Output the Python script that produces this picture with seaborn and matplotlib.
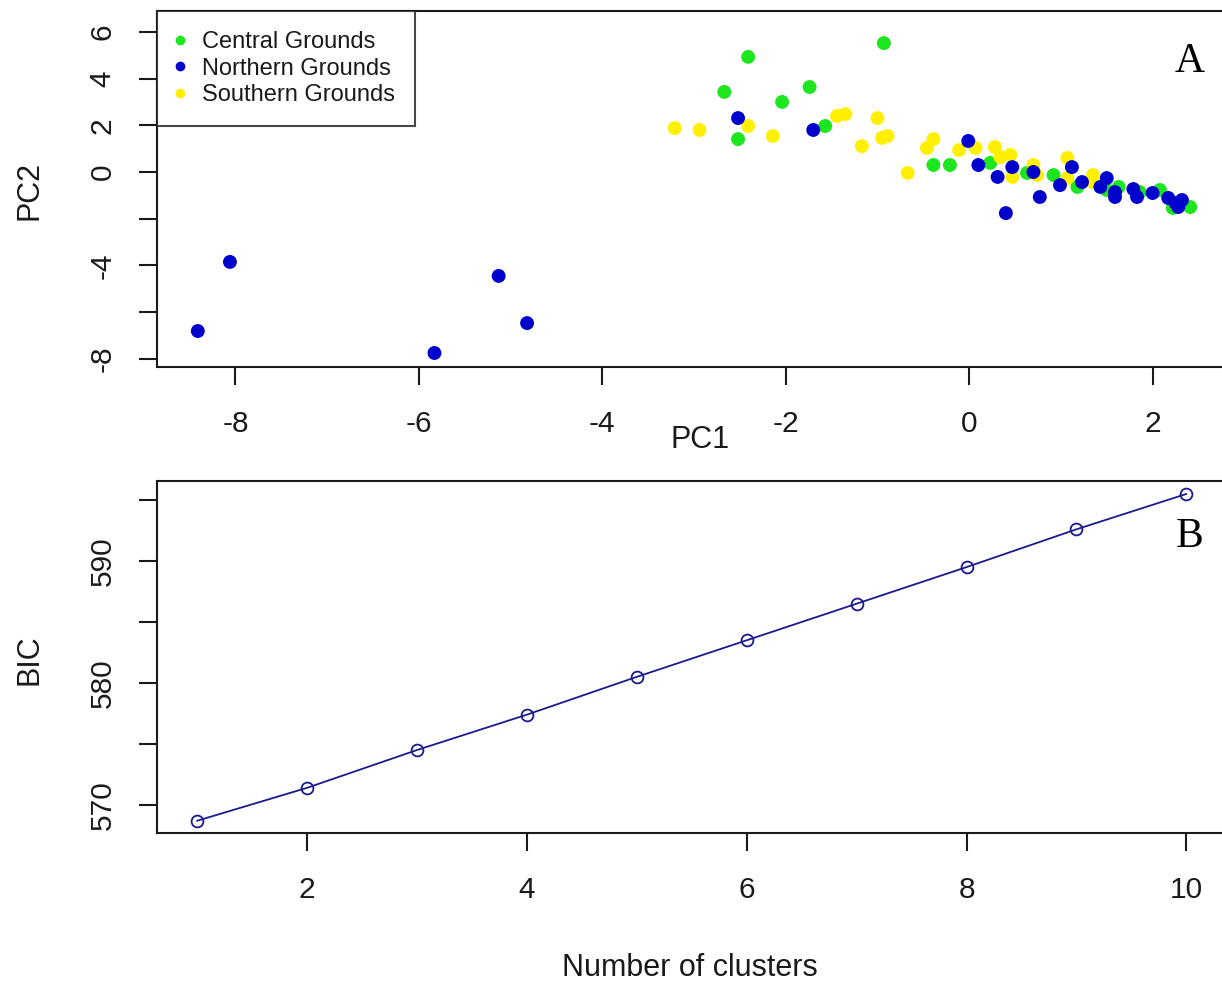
import numpy as np
import pandas as pd
import matplotlib
matplotlib.use("Agg")
import matplotlib.pyplot as plt
import seaborn as sns
from matplotlib.lines import Line2D

# ---------------- data ----------------
central_pc1 = [-2.41, -2.67, -2.52, -2.04, -1.74, -1.57, -0.93, -0.39, -0.21, 0.23, 0.63, 0.92,
               1.18, 1.50, 1.63, 1.86, 2.08, 2.22, 2.41]
central_pc2 = [4.93, 3.43, 1.41, 3.00, 3.64, 1.97, 5.52, 0.30, 0.30, 0.39, -0.04, -0.13,
               -0.64, -0.77, -0.64, -0.86, -0.77, -1.54, -1.50]

southern_pc1 = [-3.21, -2.94, -2.41, -2.14, -1.44, -1.35, -1.17, -1.00, -0.95, -0.89, -0.46, -0.39,
                -0.67, -0.11, 0.07, 0.28, 0.34, 0.45, 0.47, 0.70, 0.74, 1.07, 1.07, 1.35, 1.35]
southern_pc2 = [1.88, 1.80, 1.97, 1.54, 2.40, 2.48, 1.11, 2.31, 1.46, 1.54, 1.03, 1.41,
                -0.04, 0.94, 1.03, 1.07, 0.64, 0.73, -0.21, 0.30, -0.13, 0.60, -0.26, -0.13, -0.43]

northern_pc1 = [-8.41, -8.06, -5.83, -5.13, -4.82, -2.52, -1.70, -0.01, 0.10, 0.31, 0.47, 0.70,
                0.77, 0.40, 0.99, 1.12, 1.23, 1.50, 1.43, 1.59, 1.59, 1.79, 1.83, 2.00, 2.17,
                2.25, 2.32, 2.28]
northern_pc2 = [-6.81, -3.85, -7.75, -4.45, -6.47, 2.31, 1.80, 1.33, 0.30, -0.21, 0.21, 0.00,
                -1.07, -1.76, -0.56, 0.21, -0.43, -0.26, -0.64, -0.86, -1.07, -0.73, -1.07, -0.90,
                -1.11, -1.33, -1.20, -1.50]

groups = ["Central Grounds", "Northern Grounds", "Southern Grounds"]
group_colors = ["#1EE61E", "#0000CD", "#FFF000"]

n_clusters = [1, 2, 3, 4, 5, 6, 7, 8, 9, 10]
bic_values = [568.7, 571.4, 574.5, 577.4, 580.5, 583.5, 586.5, 589.5, 592.6, 595.5]

# ---------------- style ----------------
sns.set_style("ticks")
plt.rcParams["font.family"] = ["Liberation Sans", "DejaVu Sans"]
plt.rcParams["axes.unicode_minus"] = False

W, H = 1222, 984
fig = plt.figure(figsize=(W / 100, H / 100), dpi=100)

INK = "#1a1a1a"


def px_axes(left, top, right, bottom):
    return fig.add_axes([left / W, 1 - bottom / H, (right - left) / W, (bottom - top) / H])


pca_df = pd.concat([
    pd.DataFrame({"PC1": central_pc1, "PC2": central_pc2, "Group": groups[0]}),
    pd.DataFrame({"PC1": southern_pc1, "PC2": southern_pc2, "Group": groups[2]}),
    pd.DataFrame({"PC1": northern_pc1, "PC2": northern_pc2, "Group": groups[1]}),
], ignore_index=True)
bic_df = pd.DataFrame({"k": n_clusters, "BIC": bic_values})

spine_w = 1.5
tick_kw = dict(direction="out", length=13, width=spine_w, labelsize=21.5,
               color=INK, labelcolor=INK)

# ---------------- panel A ----------------
axA = px_axes(157, 11, 1226, 367)
sns.scatterplot(data=pca_df, x="PC1", y="PC2", hue="Group",
                hue_order=groups, palette=dict(zip(groups, group_colors)),
                s=100, linewidth=0, edgecolor="none", ax=axA, legend=False)
axA.set_xlim(-8.855, 2.80)
axA.set_ylim(-8.35, 6.895)
axA.set_xticks([-8, -6, -4, -2, 0, 2])
axA.set_yticks([-8, -6, -4, -2, 0, 2, 4, 6])
axA.set_yticklabels(["-8", "", "-4", "", "0", "2", "4", "6"], rotation=90, va="center")
axA.tick_params(axis="x", pad=18, **tick_kw)
axA.tick_params(axis="y", pad=16, **tick_kw)
axA.set_xlabel("")
axA.set_ylabel("")
for sp in axA.spines.values():
    sp.set_linewidth(spine_w)
    sp.set_color(INK)

handles = [Line2D([], [], marker="o", linestyle="none", markersize=7,
                  markerfacecolor=c, markeredgecolor="none") for c in group_colors]
leg = axA.legend(handles, groups, loc="upper left", bbox_to_anchor=(0, 1),
                 borderaxespad=0, fontsize=17, frameon=True, fancybox=False,
                 handlelength=0.25, handletextpad=0.8, labelspacing=0.19,
                 borderpad=0.85)
leg.get_frame().set_edgecolor(INK)
leg.get_frame().set_linewidth(spine_w)
for t in leg.get_texts():
    t.set_color(INK)
fig.text(1190 / W, 1 - 62 / H, "A", ha="center", va="center",
         fontsize=30, family=["Liberation Serif"], color="black")

fig.text(700 / W, 1 - 440 / H, "PC1", ha="center", va="center", fontsize=22, color=INK)
fig.text(29 / W, 1 - 190 / H, "PC2", ha="center", va="center", fontsize=22, rotation=90,
         color=INK)

# ---------------- panel B ----------------
axB = px_axes(157, 481, 1226, 833)
sns.lineplot(data=bic_df, x="k", y="BIC", ax=axB, color="#1A1A8C", linewidth=1.3,
             marker="o", markersize=8.5, markerfacecolor="none",
             markeredgecolor="#1A1A8C", markeredgewidth=1.3)
axB.set_xlim(0.636, 10.36)
axB.set_ylim(567.7, 596.56)
axB.set_xticks([2, 4, 6, 8, 10])
axB.set_yticks([570, 575, 580, 585, 590, 595])
axB.set_yticklabels(["570", "", "580", "", "590", ""], rotation=90, va="center")
axB.tick_params(axis="x", pad=18, **tick_kw)
axB.tick_params(axis="y", pad=16, **tick_kw)
axB.set_xlabel("")
axB.set_ylabel("")
for sp in axB.spines.values():
    sp.set_linewidth(spine_w)
    sp.set_color(INK)
fig.text(1190 / W, 1 - 537 / H, "B", ha="center", va="center",
         fontsize=30, family=["Liberation Serif"], color="black")

fig.text(690 / W, 1 - 968 / H, "Number of clusters", ha="center", va="center", fontsize=22,
         color=INK)
fig.text(29 / W, 1 - 660 / H, "BIC", ha="center", va="center", fontsize=22, rotation=90,
         color=INK)

fig.savefig("out.png", dpi=100, facecolor="white")
